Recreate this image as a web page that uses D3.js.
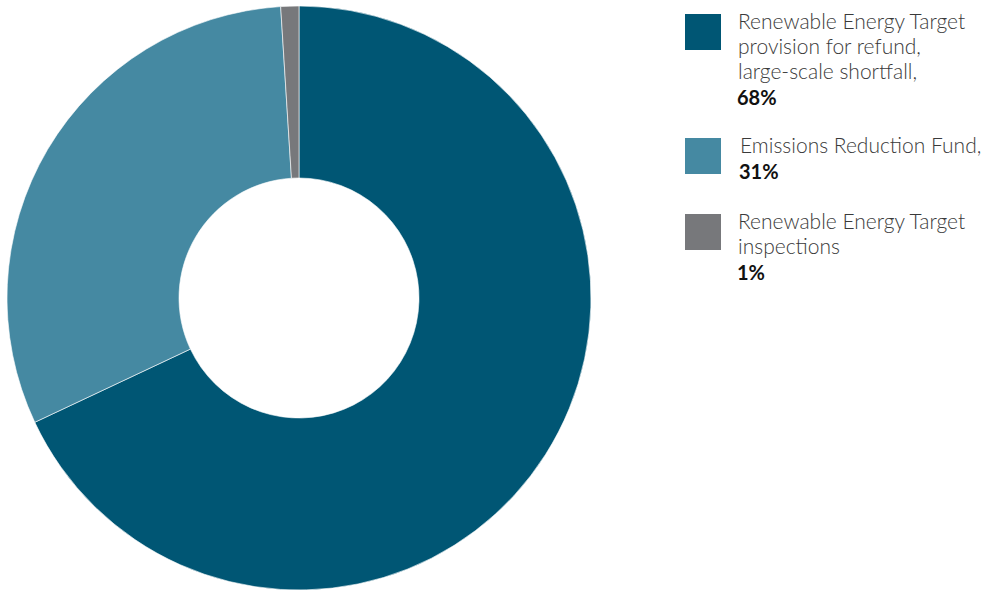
<!DOCTYPE html>
<html>
<head>
<meta charset="utf-8">
<script src="https://cdn.jsdelivr.net/npm/d3@7"></script>
<style>
  body { margin: 0; background: #fff; }
  text { font-family: Lato, "Open Sans", sans-serif; }
</style>
</head>
<body>
<svg id="chart" width="987" height="590"></svg>
<script>
'use strict';

// data
const categories = [
  'Renewable Energy Target provision for refund, large-scale shortfall',
  'Emissions Reduction Fund',
  'Renewable Energy Target inspections'
];
const shares = [68, 31, 1];
const colours = ['#005674', '#4589a2', '#77787b'];
const legendLines = [
  ['Renewable Energy Target', 'provision for refund,', 'large-scale shortfall,'],
  ['Emissions Reduction Fund,'],
  ['Renewable Energy Target', 'inspections']
];
const legendLabels = ['68%', '31%', '1%'];

const svg = d3.select('#chart');
const data = categories.map((c, i) => ({ name: c, value: shares[i], colour: colours[i] }));

//Donut
const pie = d3.pie().sort(null).value(d => d.value);
const arc = d3.arc().innerRadius(120).outerRadius(292);

svg.append('g')
  .attr('transform', 'translate(299,298)')
  .selectAll('path')
  .data(pie(data))
  .join('path')
  .attr('d', arc)
  .attr('fill', d => d.data.colour)
  .attr('stroke', '#fff')
  .attr('stroke-width', 0.6);

//Legend
const legendTops = [14, 138, 214];
const textX = [738, 740, 738];
const legend = svg.append('g');

data.forEach((d, i) => {
  const g = legend.append('g').attr('transform', 'translate(0,' + legendTops[i] + ')');
  g.append('rect')
    .attr('x', 685)
    .attr('y', 0)
    .attr('width', 36)
    .attr('height', 36)
    .attr('fill', d.colour);

  const lines = legendLines[i];
  lines.forEach((line, j) => {
    g.append('text')
      .attr('x', textX[i])
      .attr('y', 15 + j * 25)
      .attr('font-size', 21)
      .attr('font-weight', 300)
      .attr('fill', '#3a3a3a')
      .text(line);
  });
  g.append('text')
    .attr('x', textX[i] - 1)
    .attr('y', 15 + lines.length * 25 + 1)
    .attr('font-size', 20)
    .attr('font-weight', 700)
    .attr('fill', '#111')
    .text(legendLabels[i]);
});
</script>
</body>
</html>
